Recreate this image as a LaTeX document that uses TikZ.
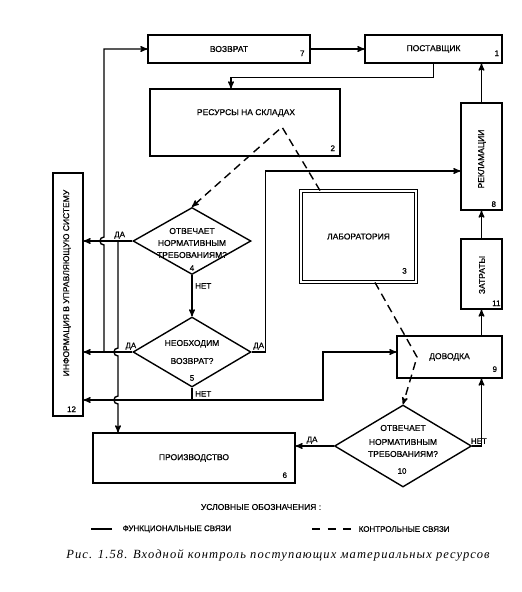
\documentclass[tikz,border=0pt]{standalone}
\usepackage{fontspec}
\setmainfont{Liberation Serif}
\setsansfont{Liberation Sans}
\newfontfamily\blokfont[FakeBold=0.6]{Liberation Sans}
\newfontfamily\podpis[LetterSpace=9]{Liberation Serif}
\usetikzlibrary{arrows,shapes,positioning,calc}
\tikzset{
  every picture/.style = {
    line width = 1.4pt,
    >=stealth'
  }
  ,
  blok/.style = {
    rectangle,
    draw,
    inner sep = 0pt,
    font = \blokfont\fontsize{8.5}{12}\selectfont
  }
  ,
  romb/.style = {
    diamond,
    draw,
    inner sep = 0pt
  }
  , % texts in boxes and diamonds
  txt/.style = {
    font = \blokfont\fontsize{8.5}{12}\selectfont,
    align = center,
    inner sep = 0pt
  }
  , % numbers of boxes
  nomer/.style = {
    font = \blokfont\fontsize{8}{9}\selectfont,
    inner sep = 0pt
  }
  , % labels of edges
  label-edge/.style = {
    font = \blokfont\fontsize{8}{9}\selectfont,
    inner sep = 1.5pt
  }
  ,
  kontrol/.style = {
    dash pattern = on 8pt off 5pt
  }
}

\begin{document}
\begin{tikzpicture}[x=1pt, y=-1pt]
    \useasboundingbox (0,0) rectangle (522,592);

    % boxes
    \node [blok, minimum width=162pt, minimum height=28pt] (b7) at (229,49) {ВОЗВРАТ};
    \node [blok, minimum width=137pt, minimum height=28pt] (b1) at (433.5,49) {ПОСТАВЩИК};
    \node [blok, minimum width=190pt, minimum height=67pt] (b2) at (245,122.5) {};
    \node [txt] (b2t) at (246,113) {РЕСУРСЫ НА СКЛАДАХ};
    \node [blok, minimum width=41pt, minimum height=107pt] (b8) at (481.5,156.5) {};
    \node [txt, rotate=90] (b8t) at (482,159) {РЕКЛАМАЦИИ};
    \node [blok, minimum width=41pt, minimum height=70pt] (b11) at (481.5,274) {};
    \node [txt, rotate=90] (b11t) at (482,275) {ЗАТРАТЫ};
    \node [blok, line width=0.9pt, double, double distance=1.6pt,
           minimum width=115pt, minimum height=91pt] (b3) at (358.5,236.5) {ЛАБОРАТОРИЯ};
    \node [blok, minimum width=105pt, minimum height=42pt] (b9) at (449.5,357) {ДОВОДКА};
    \node [blok, minimum width=30pt, minimum height=243pt] (b12) at (68,294.5) {};
    \node [txt, rotate=90] (b12t) at (67,283) {ИНФОРМАЦИЯ В УПРАВЛЯЮЩУЮ СИСТЕМУ};
    \node [blok, minimum width=202pt, minimum height=50pt] (b6) at (194,458) {ПРОИЗВОДСТВО};

    % numbers
    \node [nomer, anchor=south east] (n7) at ([xshift=-5.5pt,yshift=7pt]b7.south east) {7};
    \node [nomer, anchor=south east] (n1) at ([xshift=-3pt,yshift=7pt]b1.south east) {1};
    \node [nomer, anchor=south east] (n2) at ([xshift=-5pt,yshift=5pt]b2.south east) {2};
    \node [nomer, anchor=south east] (n8) at ([xshift=-6pt,yshift=3pt]b8.south east) {8};
    \node [nomer, anchor=south east] (n11) at ([xshift=-1.5pt,yshift=3pt]b11.south east) {11};
    \node [nomer, anchor=south east] (n3) at ([xshift=-9pt,yshift=8pt]b3.south east) {3};
    \node [nomer, anchor=south east] (n9) at ([xshift=-5pt,yshift=6pt]b9.south east) {9};
    \node [nomer, anchor=south east] (n12) at ([xshift=-7pt,yshift=4pt]b12.south east) {12};
    \node [nomer, anchor=south east] (n6) at ([xshift=-8pt,yshift=5pt]b6.south east) {6};

    % diamonds
    \node [romb, minimum width=118pt, minimum height=67pt] (d4) at (192,241) {};
    \node [txt] (d4t) at (192,243) {ОТВЕЧАЕТ\\НОРМАТИВНЫМ\\ТРЕБОВАНИЯМ?};
    \node [nomer] (n4) at (192,268) {4};
    \node [romb, minimum width=118pt, minimum height=70pt] (d5) at (192,352) {};
    \node [txt] (d5t) at (192,352) {НЕОБХОДИМ\\[6pt]ВОЗВРАТ?};
    \node [nomer] (n5) at (192,378) {5};
    \node [romb, minimum width=137pt, minimum height=82pt] (d10) at (403,446) {};
    \node [txt] (d10t) at (403,441) {ОТВЕЧАЕТ\\[2pt]НОРМАТИВНЫМ\\ТРЕБОВАНИЯМ?};
    \node [nomer] (n10) at (402,471) {10};

    % junctions
    \coordinate (j5) at (104,352);
    \coordinate (j4) at (118,241);
    \coordinate (j0) at (192,400);

    % functional links
    \draw [->] (b7) -- (b1);
    \draw [->] (b1.south) -- ++(0,14) -| ([xshift=-14pt]b2.north);
    \draw [->] (b8.north) -- (b8.north |- b1.south);
    \draw [->] (b11) -- (b8);
    \draw [->] (b9.north -| b11) -- (b11.south);
    \draw [->] (d10.east) -- node [label-edge, above, xshift=2pt] {НЕТ} (d10.east -| b11) -- (b9.south -| b11);
    \draw [->] (d10.west) -- node [label-edge, above, pos=0.57] {ДА} (d10.west -| b6.east);
    \draw [->] (d4) -- node [label-edge, right, pos=0.26, xshift=1pt] {НЕТ} (d5);
    \draw [->] (d4.west) -- node [label-edge, above, pos=0.26] {ДА} (d4.west -| b12.east);
    \draw [->] (d5.west) -- node [label-edge, above, pos=0.03] {ДА} (d5.west -| b12.east);
    \draw [->] (d5.east) -- node [label-edge, above] {ДА} ++(14,0) |- ([yshift=-14.5pt]b8.west);
    \draw [->] (j5) -- ($(j5 |- d4.west)+(0,4)$)
        .. controls ($(j5 |- d4.west)+(-5.3,4)$) and ($(j5 |- d4.west)+(-5.3,-4)$) .. ($(j5 |- d4.west)+(0,-4)$)
        -- (j5 |- b7.west) -- (b7.west);
    \draw [->] (j4) -- ($(j4 |- d5.west)+(0,-4)$)
        .. controls ($(j4 |- d5.west)+(-5.3,-4)$) and ($(j4 |- d5.west)+(-5.3,4)$) .. ($(j4 |- d5.west)+(0,4)$)
        -- ($(j4 |- j0)+(0,-4)$)
        .. controls ($(j4 |- j0)+(-5.3,-4)$) and ($(j4 |- j0)+(-5.3,4)$) .. ($(j4 |- j0)+(0,4)$)
        -- (j4 |- b6.north);
    \draw (d5.south) -- node [label-edge, right, xshift=1pt] {НЕТ} (j0);
    \draw [->] (j0) -- (j0 -| b12.east);
    \draw [->] (j0) -- ++(131,0) |- ([yshift=5pt]b9.west);

    % control links
    \coordinate (v2) at (282,127);
    \coordinate (v9) at (417,357);
    \draw [kontrol, ->] ([xshift=-38.5pt]b3.north) -- (v2) -- (d4.north);
    \draw [kontrol, ->] ([xshift=16.5pt]b3.south) -- (v9) -- (d10.north);

    % legend
    \node [txt] (leg0) at (261,507) {УСЛОВНЫЕ ОБОЗНАЧЕНИЯ :};
    \node [label-edge, anchor=west, inner sep=0pt] (leg1) at (122,529) {ФУНКЦИОНАЛЬНЫЕ СВЯЗИ};
    \node [label-edge, anchor=west, inner sep=0pt] (leg2) at (358,529) {КОНТРОЛЬНЫЕ СВЯЗИ};
    \draw ([xshift=-10pt]leg1.west) -- ++(-21,0);
    \draw [dash pattern=on 8pt off 7.5pt] ([xshift=-46pt]leg2.west) -- ++(39,0);

    % caption
    \node (podp) at (278,555) {\podpis\itshape\fontsize{12.5}{14}\selectfont
        Рис. 1.58. Входной контроль поступающих материальных ресурсов};
\end{tikzpicture}
\end{document}
